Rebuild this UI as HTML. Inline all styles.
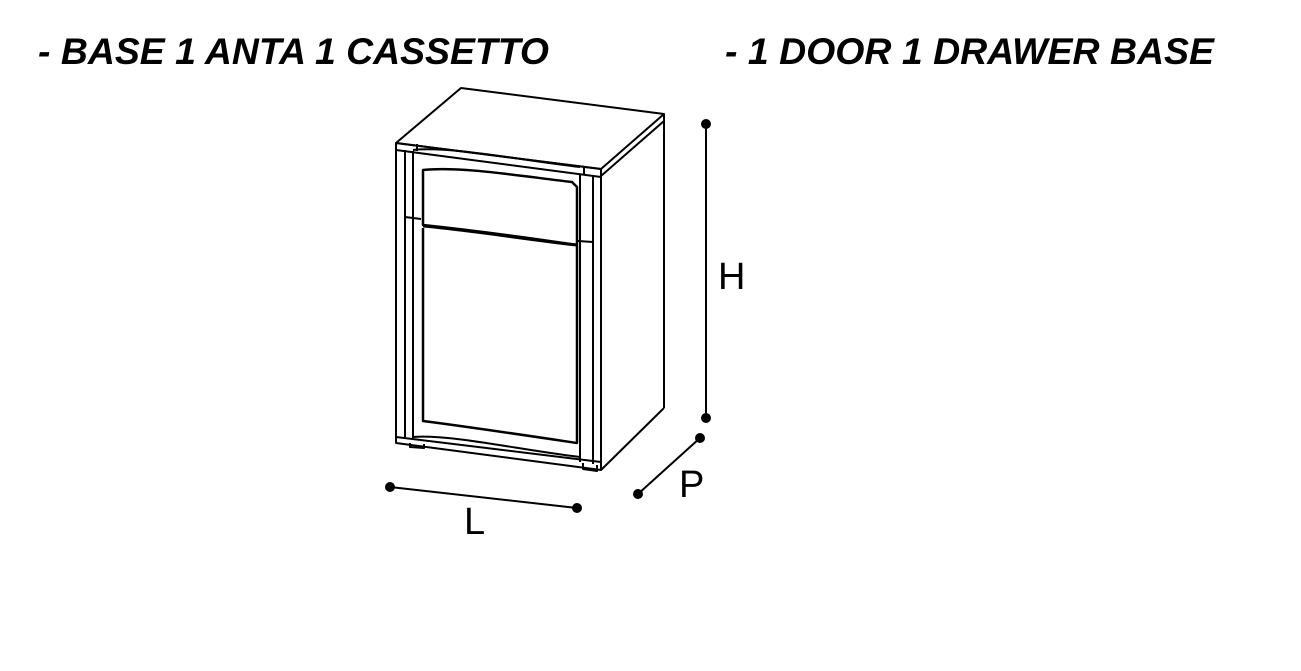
<!DOCTYPE html>
<html><head><style>
html,body{margin:0;padding:0;background:#fff;}
svg{display:block;}
</style></head><body>
<svg width="1301" height="671" viewBox="0 0 1301 671" xmlns="http://www.w3.org/2000/svg">
<rect width="1301" height="671" fill="#fff"/>
<g font-family="Liberation Sans, Arial, sans-serif" font-weight="bold" font-style="italic" font-size="37">
<text x="38" y="64" textLength="511" lengthAdjust="spacingAndGlyphs">- BASE 1 ANTA 1 CASSETTO</text>
<text x="725" y="64" textLength="489" lengthAdjust="spacingAndGlyphs">- 1 DOOR 1 DRAWER BASE</text>
</g>
<g fill="none" stroke="#000" stroke-width="2" stroke-linejoin="round">
<polygon points="396,143 461,88 664,114 601,169"/>
<polygon points="396,143 601,169 601,177 396,150"/>
<line x1="664" y1="114" x2="664" y2="408"/>
<line x1="601" y1="176" x2="664" y2="121"/>
<line x1="601" y1="470" x2="664" y2="408"/>
<line x1="396" y1="143" x2="396" y2="443"/>
<line x1="405" y1="150" x2="405" y2="437"/>
<line x1="413" y1="151" x2="413" y2="438"/>
<line x1="601" y1="169" x2="601" y2="470"/>
<line x1="593" y1="176" x2="593" y2="464"/>
<line x1="580" y1="174" x2="580" y2="462"/>
<polygon points="396,437 601,462 601,470 396,443"/>
<path d="M413,437 C450,434 520,450 580,457"/>
<path d="M413,150 C450,146 520,160 580,167"/>
<line x1="417" y1="144" x2="417" y2="151"/>
<line x1="584" y1="166" x2="584" y2="175"/>
<line x1="405" y1="217" x2="421" y2="219"/>
<line x1="578" y1="241" x2="593" y2="242"/>
<path d="M423,170 C460,166 520,176 572,182 L577,187 L577,245 C530,238 470,230 423,225 Z" stroke-width="2.5"/>
<path d="M423,226 C470,230 530,240 577,245" stroke-width="3"/>
<path d="M423,228 L423,421 C470,427 530,436 577,443 L577,246" stroke-width="2.5"/>
<path d="M410,443 L410,447 L424,448 L424,444"/>
<path d="M583,463 L583,469 L597,471 L597,465"/>
</g>
<g stroke="#000" stroke-width="2">
<line x1="706" y1="124" x2="706" y2="418"/>
<line x1="390" y1="487" x2="577" y2="508"/>
<line x1="700" y1="438" x2="638" y2="494"/>
</g>
<g fill="#000">
<circle cx="706" cy="124" r="5"/><circle cx="706" cy="418" r="5"/>
<circle cx="390" cy="487" r="5"/><circle cx="577" cy="508" r="5"/>
<circle cx="700" cy="438" r="5"/><circle cx="638" cy="494" r="5"/>
</g>
<g font-family="Liberation Sans, Arial, sans-serif" font-size="38" fill="#000">
<text x="718" y="289">H</text>
<text x="464" y="534">L</text>
<text x="679" y="497">P</text>
</g>
</svg>
</body></html>
